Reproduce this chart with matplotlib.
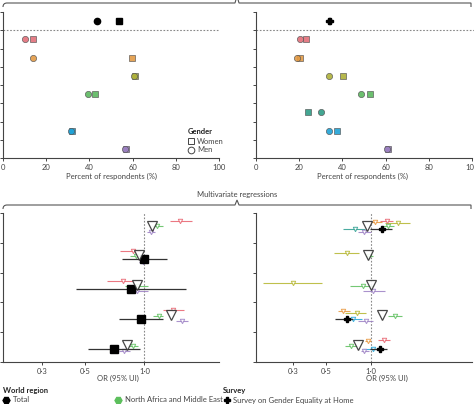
import numpy as np
import matplotlib.pyplot as plt
from matplotlib.path import Path
from matplotlib.patches import PathPatch

plt.rcParams['font.family'] = ['Lato', 'DejaVu Sans']

nan = np.nan

# ---- descriptive panels (percent of respondents), rows top to bottom ----
row_colors = ['#e26f79', '#e39a45', '#aeb13a', '#5cb85f', '#2e9c86', '#1fa2d6', '#9a7fc0']
total_men = [43.7, 34.0]
total_women = [53.5, 34.3]
men_left = [10.2, 14.1, 60.6, 39.4, nan, 31.6, 56.5]
women_left = [14.1, 59.9, 61.0, 42.8, nan, 31.9, 57.0]
men_right = [20.2, 19.2, 34.0, 48.5, 30.1, 33.6, 60.6]
women_right = [23.1, 20.6, 40.5, 52.9, 23.9, 37.4, 61.0]
pct_ticks = [0, 20, 40, 60, 80, 100]

# ---- multivariate regressions: OR, lower, upper for 5 outcome groups ----
left_or = {
    'red':    ([1.52, 0.87, 0.78, 1.40, nan], [1.35, 0.75, 0.645, 1.25, nan], [1.75, 0.95, 0.90, 1.59, nan]),
    'green':  ([1.16, 0.91, 0.93, 1.19, 0.875], [1.09, 0.84, 0.80, 1.11, 0.825], [1.25, 0.97, 1.045, 1.25, 0.93]),
    'purple': ([1.08, 0.985, 0.92, 1.56, 0.79], [1.03, 0.94, 0.825, 1.45, 0.74], [1.13, 1.03, 1.045, 1.67, 0.845]),
    'total':  ([nan, 1.0, 0.855, 0.96, 0.70], [nan, 0.77, 0.45, 0.74, 0.516], [nan, 1.31, 1.63, 1.25, 0.95]),
}
left_pooled = [1.09, 0.94, 0.92, 1.37, 0.815]

right_or = {
    'orange': ([1.06, nan, nan, 0.65, 0.955], [0.985, nan, nan, 0.60, 0.91], [1.17, nan, nan, 0.72, 1.0]),
    'red':    ([1.27, nan, nan, nan, 1.22], [1.15, nan, nan, nan, 1.11], [1.40, nan, nan, nan, 1.34]),
    'olive':  ([1.51, 0.69, 0.30, 0.80, nan], [1.24, 0.566, 0.19, 0.67, nan], [1.82, 0.83, 0.47, 0.92, nan]),
    'green':  ([1.30, 0.97, 0.884, 1.45, 0.73], [1.18, 0.92, 0.72, 1.30, 0.67], [1.42, 1.03, 1.03, 1.61, 0.81]),
    'teal':   ([0.78, nan, nan, nan, nan], [0.65, nan, nan, nan, nan], [0.91, nan, nan, nan, nan]),
    'blue':   ([nan, nan, nan, 0.76, 1.03], [nan, nan, nan, 0.67, 0.88], [nan, nan, nan, 0.87, 1.15]),
    'purple': ([0.90, nan, 1.03, 0.92, 0.90], [0.81, nan, 0.884, 0.82, 0.85], [1.0, nan, 1.24, 1.03, 0.96]),
    'survey': ([1.17, nan, nan, 0.69, 1.15], [0.985, nan, nan, 0.575, 0.985], [1.38, nan, nan, 0.75, 1.28]),
}
right_pooled = [0.94, 0.955, 1.0, 1.18, 0.82]
or_ticks = [0.3, 0.5, 1.0]
or_labels = ['0·3', '0·5', '1·0']

colors = {'red': '#e8606c', 'orange': '#e8953a', 'olive': '#b4b52c', 'green': '#5cbf5c',
          'teal': '#2a9d8f', 'blue': '#1aa3d9', 'purple': '#9b7fc4', 'total': 'black', 'survey': 'black'}
offsets = {'red': 0.27, 'orange': 0.3, 'olive': 0.35, 'green': 0.45, 'total': 0.55, 'survey': 0.55,
           'teal': 0.55, 'blue': 0.55, 'purple': 0.63}

W, H = 474, 404
fig = plt.figure(figsize=(W / 100, H / 100), dpi=100)

spine_c = '#444444'
text_c = '#444444'


def box(x0, y0, x1, y1):
    return [x0 / W, 1 - y1 / H, (x1 - x0) / W, (y1 - y0) / H]


def style(ax):
    for s in ['top', 'right']:
        ax.spines[s].set_visible(False)
    for s in ['left', 'bottom']:
        ax.spines[s].set_color(spine_c)
        ax.spines[s].set_linewidth(0.8)
    ax.tick_params(length=2.5, width=0.7, color=spine_c, labelsize=5.5, labelcolor=text_c, pad=2)


# ---- top panels ----
for k, (x0, men, women) in enumerate([(3, men_left, women_left), (256, men_right, women_right)]):
    ax = fig.add_axes(box(x0, 12, x0 + 216, 158))
    style(ax)
    ax.set_ylim(8, 0)
    ax.set_yticks(range(9))
    ax.set_yticklabels([])
    ax.set_xlim(0, 100)
    ax.set_xticks(pct_ticks)
    ax.axhline(1, color='#888888', lw=0.8, ls=(0, (1.5, 1.5)), clip_on=False,
               xmax=1.0 if k == 0 else 1.01)
    rows = np.arange(len(men)) + 1.5
    for i in range(len(men)):
        c = row_colors[i]
        ax.plot(women[i], rows[i], 's', ms=4.3, mfc=c, mec='#555555', mew=0.5, alpha=0.9)
        ax.plot(men[i], rows[i], 'o', ms=4.5, mfc=c, mec='#555555', mew=0.5, alpha=0.9)
    if k == 0:
        ax.plot(total_men[k], 0.5, 'o', ms=4.5, color='black')
        ax.plot(total_women[k], 0.5, 's', ms=4.3, color='black')
    else:
        ax.plot(total_women[k], 0.5, 'P', ms=5, color='black')
        ax.plot(total_men[k], 0.5, 'P', ms=5, color='black')

# ---- bottom panels ----
for x0, data, pooled, xlim in [(3, left_or, left_pooled, (0.19, 2.4)),
                               (256, right_or, right_pooled, (0.17, 4.7))]:
    ax = fig.add_axes(box(x0, 213, x0 + 216, 362))
    style(ax)
    ax.set_xscale('log')
    ax.set_xlim(*xlim)
    ax.set_ylim(5, 0)
    ax.set_yticks(range(6))
    ax.set_yticklabels([])
    ax.set_xticks(or_ticks)
    ax.set_xticklabels(or_labels)
    ax.minorticks_off()
    ax.axvline(1, color='#888888', lw=0.8, ls=(0, (1.5, 1.5)))
    groups = np.arange(5)
    for name, (est, lo, hi) in data.items():
        est, lo, hi = np.array(est), np.array(lo), np.array(hi)
        y = groups + offsets[name]
        c = colors[name]
        if name == 'total':
            ax.errorbar(est, y, xerr=[est - lo, hi - est], fmt='s', ms=6, color='black',
                        ecolor='#333333', elinewidth=0.9, capsize=0, zorder=4)
        elif name == 'survey':
            ax.errorbar(est, y, xerr=[est - lo, hi - est], fmt='P', ms=4.5, color='black',
                        ecolor='#333333', elinewidth=0.9, capsize=0, zorder=4)
        else:
            ax.errorbar(est, y, xerr=[est - lo, hi - est], fmt='v', ms=3.2, mfc='white',
                        mec=c, mew=0.7, ecolor=c, elinewidth=0.8, capsize=0, alpha=0.85, zorder=3)
    ax.plot(pooled, groups + 0.42, 'v', ms=7.5, mfc='white', mec='#333333', mew=0.9, alpha=0.9, zorder=5)

# ---- overlay: braces, labels, legends ----
ov = fig.add_axes([0, 0, 1, 1])
ov.set_xlim(0, W)
ov.set_ylim(H, 0)
ov.axis('off')


def brace(xl, xr, y, d, tip):
    xm = (xl + xr) / 2
    verts = [(xl, y + d), (xl, y), (xl + 4, y), (xl + 8, y),
             (xm - 6, y), (xm - 3, y), (xm - 2, y), (xm, tip),
             (xm + 2, y), (xm + 3, y), (xm + 6, y),
             (xr - 8, y), (xr - 4, y), (xr, y), (xr, y + d)]
    codes = [Path.MOVETO, Path.CURVE3, Path.CURVE3, Path.LINETO,
             Path.LINETO, Path.CURVE3, Path.CURVE3, Path.LINETO,
             Path.LINETO, Path.CURVE3, Path.CURVE3,
             Path.LINETO, Path.CURVE3, Path.CURVE3, Path.LINETO]
    ov.add_patch(PathPatch(Path(verts, codes), fill=False, ec='#555555', lw=0.8))


brace(3, 471, 3, 4, -4)
brace(3, 471, 205, 4, 200)
ov.text(237, 194, 'Multivariate regressions', fontsize=5.5, color=text_c, ha='center', va='center')

ov.text(112, 176, 'Percent of respondents (%)', fontsize=5.5, color=text_c, ha='center', va='center')
ov.text(363, 176, 'Percent of respondents (%)', fontsize=5.5, color=text_c, ha='center', va='center')
ov.text(118, 378, 'OR (95% UI)', fontsize=5.5, color=text_c, ha='center', va='center')
ov.text(387, 378, 'OR (95% UI)', fontsize=5.5, color=text_c, ha='center', va='center')

# gender legend
ov.text(188, 132, 'Gender', fontsize=5.5, fontweight='bold', color='#222222', va='center')
ov.plot(191, 141, 's', ms=4.5, mfc='white', mec='#444444', mew=0.7)
ov.text(197, 141, 'Women', fontsize=5.5, color=text_c, va='center')
ov.plot(191, 150, 'o', ms=4.8, mfc='white', mec='#444444', mew=0.7)
ov.text(197, 150, 'Men', fontsize=5.5, color=text_c, va='center')

# bottom legends
ov.text(3, 390, 'World region', fontsize=5.5, fontweight='bold', color='#222222', va='center')
ov.plot(6, 400, 'H', ms=5, color='black')
ov.text(13, 400, 'Total', fontsize=5.5, color=text_c, va='center')
ov.plot(118, 400, 'H', ms=5, color=colors['green'])
ov.text(125, 400, 'North Africa and Middle East', fontsize=5.5, color=text_c, va='center')
ov.text(223, 390, 'Survey', fontsize=5.5, fontweight='bold', color='#222222', va='center')
ov.plot(227, 400, 'P', ms=4.5, color='black')
ov.text(233, 400, 'Survey on Gender Equality at Home', fontsize=5.5, color=text_c, va='center')

fig.savefig('out.png', dpi=100)
